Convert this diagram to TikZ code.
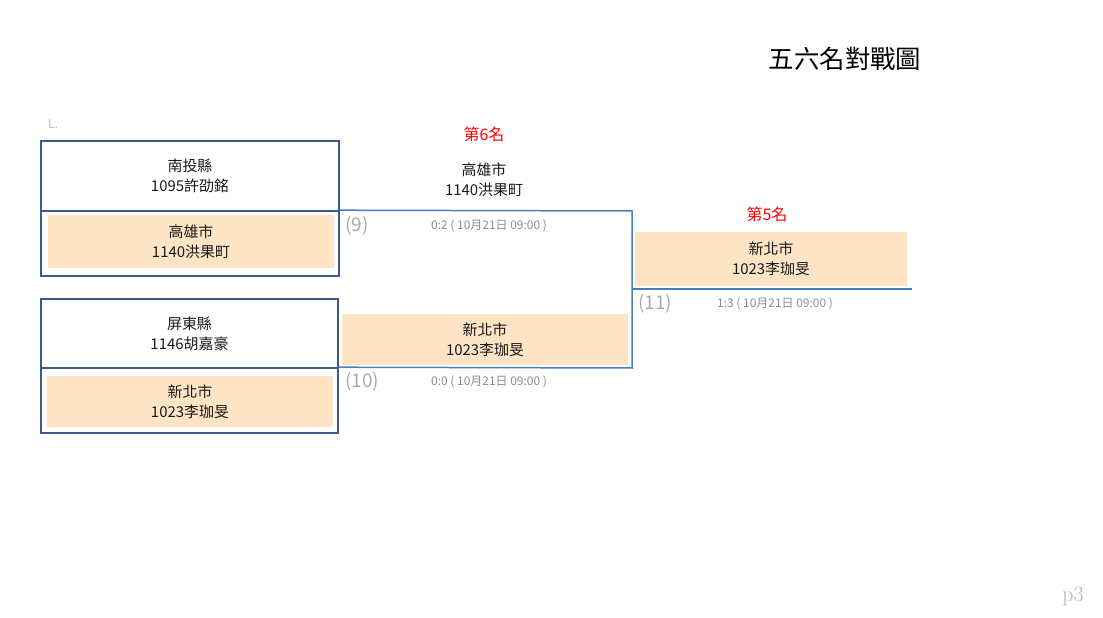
\documentclass[tikz,border=0pt]{standalone}
\usepackage{fontspec}
\newfontfamily\cjk{Noto Sans CJK TC}
\definecolor{boxblue}{HTML}{3B5B8C}
\definecolor{linkblue}{HTML}{4A7EBB}
\definecolor{winfill}{HTML}{FDE4C4}
\definecolor{numgray}{HTML}{ABABAB}
\definecolor{scoregray}{HTML}{8C8C8C}
\definecolor{inkgray}{HTML}{1A1A1A}
\begin{document}
\begin{tikzpicture}[x=1bp, y=-1bp,
	every node/.style={inner sep=0pt, text=inkgray},
	half/.style={draw=boxblue, line width=1.6bp, minimum width=298bp},
	team/.style={align=center, font=\cjk\fontsize{15}{20}\selectfont},
	win/.style={team, fill=winfill, minimum width=286bp, minimum height=52bp},
	link/.style={draw=linkblue, line width=1.5bp},
	matchno/.style={font=\cjk\fontsize{19}{22}\selectfont, text=numgray},
	score/.style={font=\cjk\fontsize{12}{14}\selectfont, text=scoregray},
	place/.style={font=\cjk\fontsize{16}{18}\selectfont, text=red}]
	\useasboundingbox (0,0) rectangle (1103,618);
	\node[font=\cjk\fontsize{25.5}{30}\selectfont, text=black] (title) at (845,59) {五六名對戰圖};
	\node[font=\cjk\fontsize{12}{14}\selectfont, text=numgray!80] (lmark) at (53,124) {L.};
	% first round
	\node[half, team, minimum height=70bp] (t1) at (190,176) {南投縣\\1095許劭銘};
	\node[half, minimum height=65bp] (b1) at (190,243.5) {};
	\node[win] (f1) at (191,241.5) {高雄市\\1140洪果町};
	\node[half, team, minimum width=297bp, minimum height=69bp] (t2) at (189.5,333.5) {屏東縣\\1146胡嘉豪};
	\node[half, minimum width=297bp, minimum height=65bp] (b2) at (189.5,400.5) {};
	\node[win, minimum height=51bp] (f2) at (190,401.5) {新北市\\1023李珈旻};
	% second round
	\coordinate (j9) at (632,211);
	\coordinate (j10) at (632,368);
	\coordinate (w11) at (912,289);
	\draw[link] (b1.north east) -- (j9) -- (j10) -- (b2.north east);
	\draw[link] (j9 |- w11) -- (w11);
	\node[place] (six) at (484,134) {第6名};
	\node[team] (m9) at (484,180) {高雄市\\1140洪果町};
	\node[win, minimum height=51bp] (m10) at (485,339.5) {新北市\\1023李珈旻};
	\node[matchno] (n9) at (357,226) {(9)};
	\node[score] (s9) at (489,226) {0:2 ( 10月21日 09:00 )};
	\node[matchno] (n10) at (362,382) {(10)};
	\node[score] (s10) at (489,382) {0:0 ( 10月21日 09:00 )};
	% final
	\node[place] (five) at (767,214) {第5名};
	\node[win, minimum width=272bp, minimum height=54bp] (r11) at (771,259) {新北市\\1023李珈旻};
	\node[matchno] (n11) at (655,304) {(11)};
	\node[score] (s11) at (775,304) {1:3 ( 10月21日 09:00 )};
	\node[font=\fontsize{22}{26}\selectfont, text=numgray!90] (page) at (1073,596) {p3};
\end{tikzpicture}
\end{document}
